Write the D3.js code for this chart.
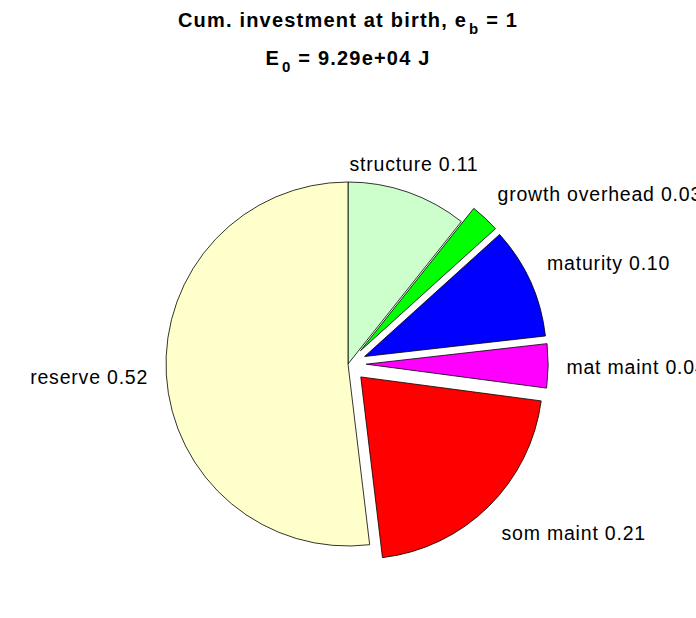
<!DOCTYPE html>
<html>
<head>
<meta charset="utf-8">
<script src="https://cdn.jsdelivr.net/npm/d3@7"></script>
<style>
  html, body { margin: 0; padding: 0; background: #fff; }
  svg { display: block; }
  text { font-family: "Liberation Sans", Arial, Helvetica, sans-serif; }
</style>
</head>
<body>
<svg id="chart" width="696" height="618"></svg>
<script>
// ---- data (clockwise from 12 o'clock) ----
const categories = ["structure", "growth overhead", "maturity", "mat maint", "som maint", "reserve"];
const values     = [0.107, 0.026, 0.099, 0.039, 0.210, 0.519];
const exploded   = [0, 1, 1, 1, 1, 0];
const colors     = ["#ccffcc", "#00ff00", "#0000ff", "#ff00ff", "#ff0000", "#ffffcc"];
const titleLine1 = ["Cum. investment at birth, e", "b", " = 1"];
const titleLine2 = ["E", "0", " = 9.29e+04 J"];

const W = 696, H = 618;
const cx = 348, cy = 364, R = 182;

const svg = d3.select("#chart");
svg.append("rect").attr("width", W).attr("height", H).attr("fill", "#fff");

const data = categories.map((c, i) => ({ name: c, value: values[i], explode: exploded[i], color: colors[i] }));

const pie = d3.pie().sort(null).value(d => d.value).startAngle(0).endAngle(2 * Math.PI);
const arcs = pie(data);
const arc = d3.arc().innerRadius(0).outerRadius(R);

const g = svg.append("g").attr("transform", `translate(${cx},${cy})`);

g.selectAll("path.slice")
  .data(arcs)
  .join("path")
  .attr("class", "slice")
  .attr("d", arc)
  .attr("fill", d => d.data.color)
  .attr("stroke", "#000")
  .attr("stroke-width", 0.8)
  .attr("stroke-linejoin", "round")
  .attr("transform", d => {
    const m = (d.startAngle + d.endAngle) / 2;
    const off = d.data.explode ? 0.1 * R : 0;
    return `translate(${off * Math.sin(m)},${-off * Math.cos(m)})`;
  });

// labels
g.selectAll("text.lbl")
  .data(arcs)
  .join("text")
  .attr("class", "lbl")
  .each(function(d) {
    const m = (d.startAngle + d.endAngle) / 2;
    const rr = (1.1 + (d.data.explode ? 0.1 : 0)) * R;
    const s = Math.sin(m), c = Math.cos(m);
    const x = rr * s, y = -rr * c;
    let anchor = "middle";
    if (s > 0.4) anchor = "start"; else if (s < -0.4) anchor = "end";
    let dy;
    if (c > 0.4) dy = -4; else if (c < -0.4) dy = 21; else dy = 8;
    d3.select(this)
      .attr("x", x).attr("y", y + dy)
      .attr("text-anchor", anchor)
      .attr("font-size", 19.5)
      .attr("letter-spacing", 0.8)
      .attr("fill", "#000")
      .text(`${d.data.name} ${d.data.value.toFixed(2)}`);
  });

// titles
function titleLine(parts, y) {
  const t = svg.append("text")
    .attr("x", cx).attr("y", y)
    .attr("text-anchor", "middle")
    .attr("font-weight", "bold")
    .attr("font-size", 20)
    .attr("letter-spacing", 1.2)
    .attr("fill", "#000");
  t.append("tspan").text(parts[0]);
  t.append("tspan").attr("font-size", 15).attr("dy", 7).attr("dx", 2).text(parts[1]);
  t.append("tspan").attr("dy", -7).text(parts[2]);
}
titleLine(titleLine1, 27);
titleLine(titleLine2, 65);
</script>
</body>
</html>
